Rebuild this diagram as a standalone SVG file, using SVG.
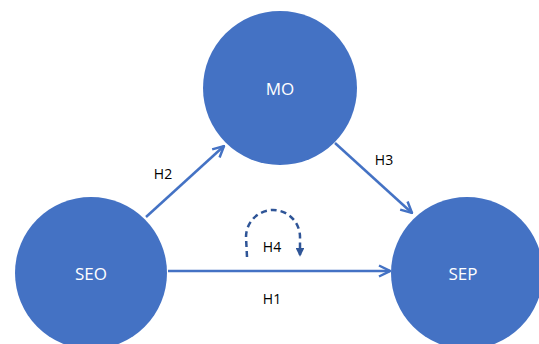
<svg xmlns="http://www.w3.org/2000/svg" width="539" height="344" viewBox="0 0 539 344">
<defs>
<style>
.node{fill:#4472C4}
.nt{fill:#fff;font-family:"Open Sans","Liberation Sans",sans-serif;font-size:17px;text-anchor:middle;dominant-baseline:central}
.lb{fill:#000;font-family:"Open Sans","Liberation Sans",sans-serif;font-size:14px;text-anchor:middle;dominant-baseline:central}
.edge{stroke:#4472C4;stroke-width:2.5;fill:none}
.dash{stroke:#2F5597;stroke-width:2.5;fill:none;stroke-dasharray:6 4}
</style>
<marker id="ah" viewBox="0 0 10 10" refX="9" refY="5" markerWidth="5.5" markerHeight="5.5" orient="auto" markerUnits="strokeWidth">
<path d="M1,1 L9,5 L1,9" fill="none" stroke="#4472C4" stroke-width="1.8"/>
</marker>
<marker id="ah2" viewBox="0 0 10 10" refX="8" refY="5" markerWidth="3.5" markerHeight="3.5" orient="auto" markerUnits="strokeWidth">
<path d="M0,0 L10,5 L0,10 z" fill="#2F5597"/>
</marker>
</defs>
<g id="connectors">
<line class="edge" x1="146" y1="217" x2="224" y2="146" marker-end="url(#ah)"/>
<line class="edge" x1="335" y1="143" x2="412" y2="213" marker-end="url(#ah)"/>
<line class="edge" x1="168" y1="271" x2="390" y2="271" marker-end="url(#ah)"/>
<path class="dash" d="M247,257 L246,237 A27,27 0 0 1 300,237 L300,255" marker-end="url(#ah2)"/>
</g>
<g id="MO"><circle class="node" cx="280" cy="88" r="77"/><text class="nt" x="280" y="88">MO</text></g>
<g id="SEO"><circle class="node" cx="91" cy="273" r="76"/><text class="nt" x="91" y="273">SEO</text></g>
<g id="SEP"><circle class="node" cx="467" cy="273" r="76"/><text class="nt" x="463" y="273">SEP</text></g>
<g id="labels">
<text class="lb" x="163" y="173">H2</text>
<text class="lb" x="384" y="159">H3</text>
<text class="lb" x="272" y="246">H4</text>
<text class="lb" x="272" y="298">H1</text>
</g>
</svg>
